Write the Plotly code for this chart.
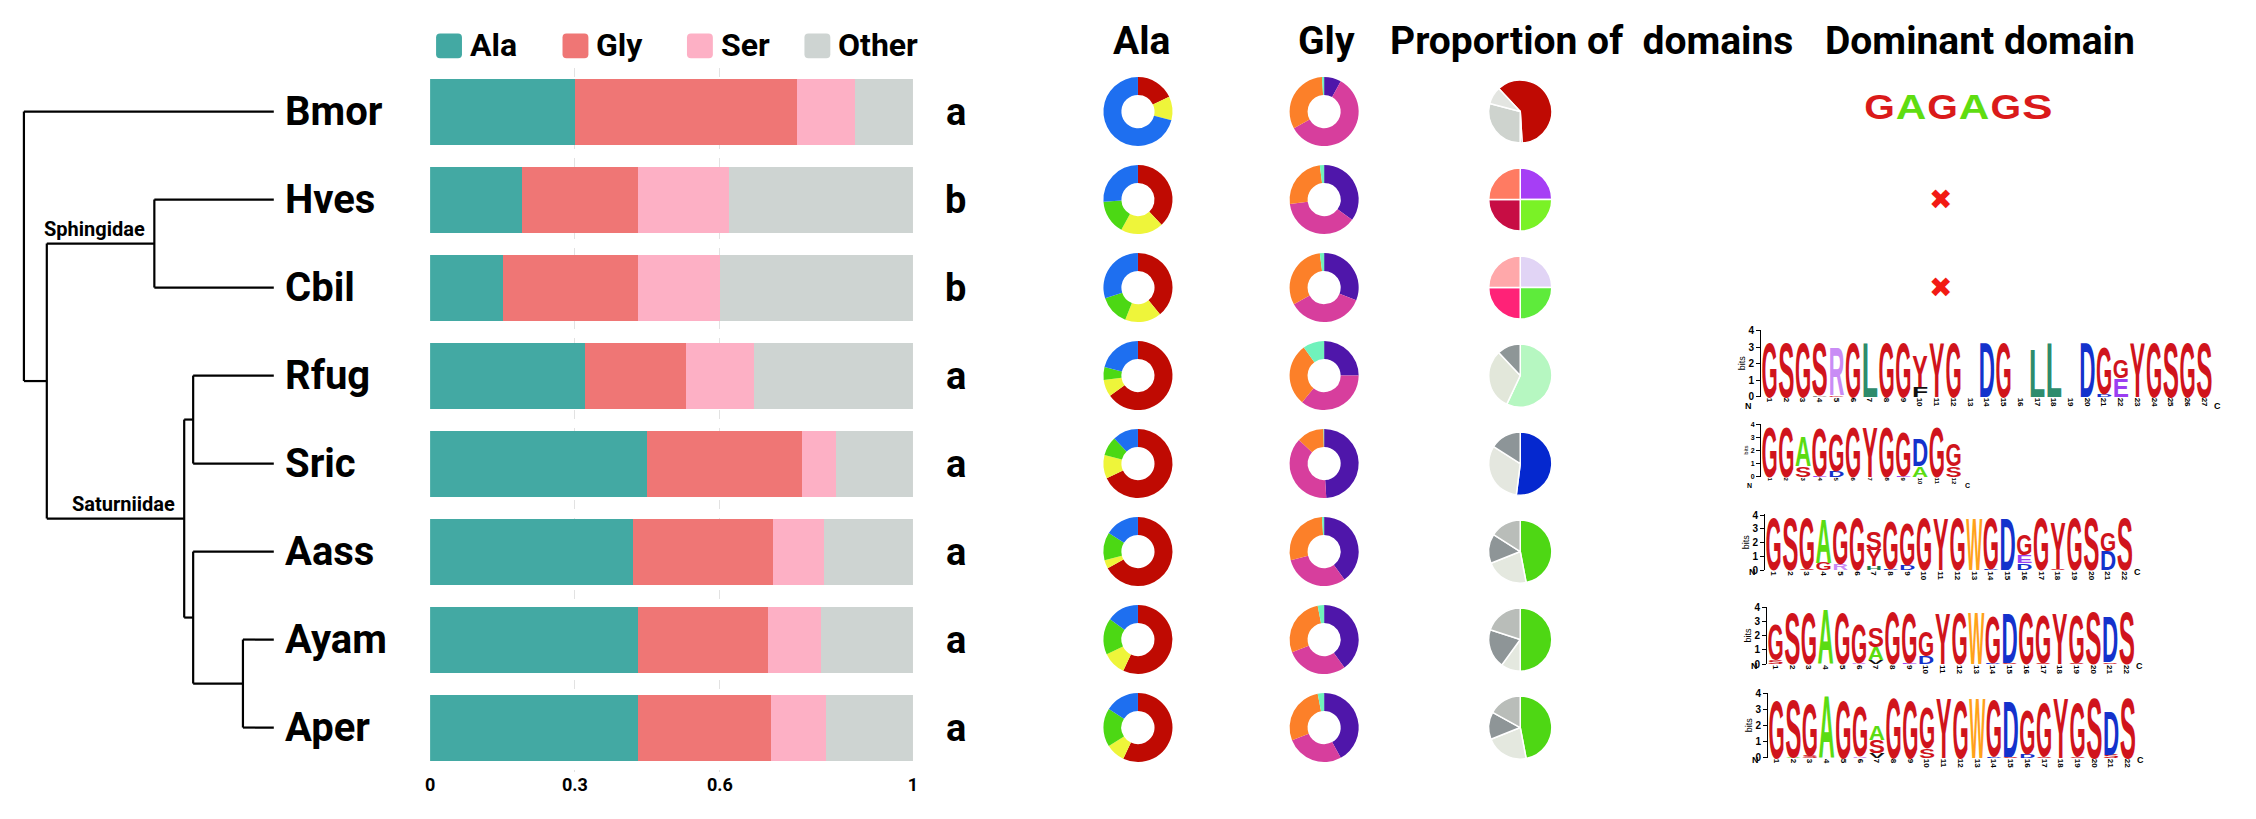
import plotly.graph_objects as go

W, H = 2256, 819

# ---------------- data ----------------
species = ["Bmor", "Hves", "Cbil", "Rfug", "Sric", "Aass", "Ayam", "Aper"]
group_letters = ["a", "b", "b", "a", "a", "a", "a", "a"]

composition_names = ["Ala", "Gly", "Ser", "Other"]
ala_frac = [0.30, 0.19, 0.15, 0.32, 0.45, 0.42, 0.43, 0.43]
gly_frac = [0.46, 0.24, 0.28, 0.21, 0.32, 0.29, 0.27, 0.275]
ser_frac = [0.12, 0.19, 0.17, 0.14, 0.07, 0.105, 0.11, 0.115]
other_frac = [0.12, 0.38, 0.40, 0.33, 0.16, 0.185, 0.19, 0.18]
bar_tick_values = [0, 0.3, 0.6, 1]
bar_tick_labels = ["0", "0.3", "0.6", "1"]

column_titles = ["Ala", "Gly", "Proportion of\u00a0 domains", "Dominant domain"]

ala_parts = ["Ala motif 1", "Ala motif 2", "Ala motif 3", "Ala motif 4"]
ala_donut = {
    "Bmor": [18, 11, 0, 71],
    "Hves": [38, 20, 16, 26],
    "Cbil": [39, 17, 14, 30],
    "Rfug": [65, 8, 6, 21],
    "Sric": [68, 11, 9, 12],
    "Aass": [67, 4, 13, 16],
    "Ayam": [57, 11, 17, 15],
    "Aper": [57, 9, 18, 16],
}
gly_parts = ["Gly motif 1", "Gly motif 2", "Gly motif 3", "Gly motif 4"]
gly_donut = {
    "Bmor": [8, 59, 32, 1],
    "Hves": [35, 38, 25, 2],
    "Cbil": [31, 36, 31, 2],
    "Rfug": [25, 36, 29, 10],
    "Sric": [49, 38, 12.7, 0.3],
    "Aass": [40, 31, 28, 1],
    "Ayam": [40, 29, 28, 3],
    "Aper": [42, 27, 28, 3],
}
domain_share = {
    "Bmor": [61, 1, 29, 9],
    "Hves": [25, 25, 25, 25],
    "Cbil": [25, 25, 25, 25],
    "Rfug": [57, 31, 12],
    "Sric": [52, 32, 16],
    "Aass": [47, 22, 15, 16],
    "Ayam": [50, 10, 20, 20],
    "Aper": [47, 22, 14, 17],
}
domain_start_angle = {"Bmor": -43}

tree = ("", 19, [
    "Bmor",
    ("", 42, [
        ("Sphingidae", 150, ["Hves", "Cbil"]),
        ("Saturniidae", 180, [
            ("", 189, ["Rfug", "Sric"]),
            ("", 189, ["Aass", ("", 239, ["Ayam", "Aper"])]),
        ]),
    ]),
])

# dominant-domain sequence logos: each column bottom->top "letter+bits"
bmor_motif = "GAGAGS"
logo_columns = {
    "Rfug": ["G3.4", "S3.4", "G3.4", "P0.08/S3.2", "G0.1/R3.0", "G3.4", "L3.4", "G3.4", "G3.4",
             "F0.6/Y1.9", "Y3.4", "G3.4", "", "D3.4", "G3.4", "", "L3.0", "L3.4", "", "D3.4",
             "D0.15/G2.9", "E1.1/G1.1", "Y3.4", "G3.4", "S3.4", "G3.4", "S3.4"],
    "Sric": ["G3.85", "G3.85", "S0.8/A2.3", "E0.06/G3.75", "D0.45/G2.9", "G3.85", "Y3.85",
             "G3.85", "E0.08/G3.5", "A0.8/D2.1", "G3.85", "S0.8/G1.7"],
    "Aass": ["G3.9", "S3.9", "S0.06/G3.8", "G0.55/A3.3", "R0.45/G3.2", "G3.9", "H0.3/Y1.2/S1.3",
             "D0.1/G3.6", "D0.4/G3.1", "G3.9", "Y3.9", "G3.9", "W3.9", "D0.08/G3.8", "D3.9",
             "D0.5/E0.6/G1.5", "G3.9", "S0.12/Y3.5", "G3.9", "S3.9", "D1.4/G1.3", "S3.9"],
    "Ayam": ["S0.3/G2.6", "S3.7", "G3.7", "A4.0", "G3.7", "R0.1/G2.8", "V0.3/A0.9/S1.4", "G3.8",
             "E0.05/G3.65", "D0.6/G1.8", "Y3.7", "G3.7", "W3.8", "D0.1/G3.4", "S0.05/D3.65",
             "G3.7", "S0.05/G3.55", "Y3.7", "S0.05/G3.5", "S3.8", "S0.12/D3.3", "S3.8"],
    "Aper": ["G3.7", "A0.05/S3.65", "S0.12/G3.3", "A4.0", "G3.7", "R0.1/G3.2", "V0.3/S0.8/A0.9",
             "G3.8", "G3.7", "S0.6/G2.6", "Y3.8", "G3.7", "W3.8", "D0.08/G3.6", "S0.05/D3.55",
             "D0.25/G2.8", "S0.08/G3.4", "Y3.8", "S0.08/G3.4", "S3.8", "S0.2/D2.8", "S3.8"],
}
no_domain = ["Hves", "Cbil"]

# ---------------- styles / layout ----------------
comp_colors = ["#43A9A3", "#EF7675", "#FDB0C5", "#CED4D2"]
ala_colors = ["#BF0A02", "#EEF53A", "#4CD814", "#1E6FF0"]
gly_colors = ["#4F16AA", "#D73E9D", "#FC8029", "#70F2BC"]
domain_colors = {
    "Bmor": ["#BF0A03", "#6E7680", "#CED3CE", "#E3E5E1"],
    "Hves": ["#A63EF5", "#7AF226", "#C70D44", "#FF7B62"],
    "Cbil": ["#E1D4F5", "#5EEB3B", "#FF2277", "#FFA8AA"],
    "Rfug": ["#B6F7C1", "#E2E7DA", "#8E9697"],
    "Sric": ["#0528CF", "#E4E7DF", "#8D9598"],
    "Aass": ["#4ED714", "#E4E8DF", "#8E9597", "#B9BDB9"],
    "Ayam": ["#4ED714", "#E4E8DF", "#8E9597", "#B9BDB9"],
    "Aper": ["#4ED714", "#E4E8DF", "#8E9597", "#B9BDB9"],
}
letter_colors = {"G": "#D0141C", "S": "#D0141C", "Y": "#D0141C", "A": "#5BDC12",
                 "D": "#1432CC", "W": "#FFA21A", "L": "#2E8C6C", "R": "#C98CF5",
                 "E": "#9B3EF2", "F": "#111111", "H": "#1F7A50", "V": "#111111",
                 "P": "#8A8A8A"}

ROW0, ROW_STEP = 108.0, 89.2
ROW_TOP = ROW0 - ROW_STEP / 2
ROW_BOTTOM = ROW0 + ROW_STEP * (len(species) - 0.5)
BAR_X0, BAR_X1 = 427, 912
TIP_X = 270

BOLD = "bold"
ROBOTO = "Roboto"
LOGO_FONT = "Liberation Sans"


def px(x):
    return x / W


def py(y):
    return 1 - y / H


def row_px(i):
    return ROW0 + ROW_STEP * i


def pie_domain(cx, cy, r):
    return dict(x=[px(cx - r), px(cx + r)], y=[py(cy + r), py(cy - r)])


fig = go.Figure()

# ---- stacked composition bars ----
for name, vals, col in zip(composition_names, [ala_frac, gly_frac, ser_frac, other_frac], comp_colors):
    fig.add_trace(go.Bar(y=species, x=vals, name=name, orientation="h", marker=dict(color=col, line=dict(width=0)),
                         width=0.75, xaxis="x", yaxis="y", showlegend=False))

# ---- tree ----
tree_x, tree_y, clade_labels = [], [], []


def walk(node):
    if isinstance(node, str):
        return TIP_X, species.index(node)
    name, x, children = node
    ys = []
    for ch in children:
        cx, cy = walk(ch)
        tree_x.extend([x, cx, None])
        tree_y.extend([cy, cy, None])
        ys.append(cy)
    tree_x.extend([x, x, None])
    tree_y.extend([min(ys), max(ys), None])
    y = (min(ys) + max(ys)) / 2
    if name:
        clade_labels.append((name, x, y))
    return x, y


walk(tree)
fig.add_trace(go.Scatter(x=tree_x, y=tree_y, mode="lines", line=dict(color="black", width=2.2),
                         xaxis="x2", yaxis="y2", showlegend=False, hoverinfo="skip"))

# ---- donuts and pies ----
for i, sp in enumerate(species):
    cy = row_px(i)
    fig.add_trace(go.Pie(values=ala_donut[sp], labels=ala_parts, hole=0.48, sort=False, direction="clockwise",
                         marker=dict(colors=ala_colors, line=dict(width=0)), textinfo="none",
                         domain=pie_domain(1138, cy, 35), showlegend=False, name=sp))
    fig.add_trace(go.Pie(values=gly_donut[sp], labels=gly_parts, hole=0.48, sort=False, direction="clockwise",
                         marker=dict(colors=gly_colors, line=dict(width=0)), textinfo="none",
                         domain=pie_domain(1325, cy, 35), showlegend=False, name=sp))
    vals = domain_share[sp]
    fig.add_trace(go.Pie(values=vals, labels=[f"{sp} domain {k + 1}" for k in range(len(vals))],
                         sort=False, direction="clockwise", rotation=domain_start_angle.get(sp, 0),
                         marker=dict(colors=domain_colors[sp], line=dict(width=1.5, color="white")),
                         textinfo="none", domain=pie_domain(1522, cy, 32), showlegend=False, name=sp))

# ---- sequence logos ----
logo_geom = {
    # left px, column width px, baseline px, px per bit, y top, show axes, tick font, number font
    "Bmor": (1867, 31.7, 116, 26.0, 1.0, False, 10, 9),
    "Rfug": (1764, 16.8, 397, 16.75, 4.05, True, 10, 8),
    "Sric": (1764, 16.8, 478, 13.25, 4.05, True, 7, 6),
    "Aass": (1768, 16.8, 573, 14.0, 4.05, True, 10, 8),
    "Ayam": (1770, 16.8, 668, 14.25, 4.05, True, 10, 8),
    "Aper": (1771, 16.8, 763, 16.25, 4.05, True, 10, 8),
}
logo_order = ["Bmor", "Rfug", "Sric", "Aass", "Ayam", "Aper"]
axis_layout = {}
annotations = []
for k, sp in enumerate(logo_order):
    idx = k + 3
    left, cw, base, ppb, ytop, show, tfs, nfs = logo_geom[sp]
    if sp == "Bmor":
        cols = [c + "1.0" for c in bmor_motif]
    else:
        cols = logo_columns[sp]
    n = len(cols)
    lx, ly, lt, lc, lh = [], [], [], [], []
    for j, col in enumerate(cols, start=1):
        if not col:
            continue
        b = 0.0
        for item in col.split("/"):
            letter, h = item[0], float(item[1:])
            lx.append(j)
            ly.append(b)
            lt.append(letter)
            lc.append(letter_colors[letter] if sp != "Bmor" else ("#5FDD10" if letter == "A" else "#DA1A1A"))
            lh.append(h)
            b += h
    fig.add_trace(go.Scatter(x=lx, y=ly, text=lt, customdata=lh, mode="text", meta="logo",
                             textfont=dict(family=LOGO_FONT, size=20, weight=BOLD, color=lc),
                             cliponaxis=False, xaxis=f"x{idx}", yaxis=f"y{idx}", showlegend=False,
                             hoverinfo="skip"))
    axis_layout[f"xaxis{idx}"] = dict(
        domain=[px(left), px(left + n * cw)], range=[0.5, n + 0.5], anchor=f"y{idx}",
        tickmode="array", tickvals=list(range(1, n + 1)), ticktext=[str(v) for v in range(1, n + 1)],
        tickangle=90, tickfont=dict(family=LOGO_FONT, size=nfs, weight=BOLD, color="black"),
        showgrid=False, zeroline=False, showline=False, ticks="", visible=show, fixedrange=True)
    axis_layout[f"yaxis{idx}"] = dict(
        domain=[py(base), py(base - ytop * ppb)], range=[0, ytop], anchor=f"x{idx}",
        tickmode="array", tickvals=[0, 1, 2, 3, 4], ticks="outside", ticklen=4, tickwidth=1,
        tickcolor="black", showline=True, linewidth=1, linecolor="black", showgrid=False,
        zeroline=False, tickfont=dict(family=LOGO_FONT, size=tfs, weight=BOLD, color="black"),
        title=dict(text="bits", font=dict(family=LOGO_FONT, size=tfs - 1, color="black"), standoff=1),
        visible=show, fixedrange=True)
    if show:
        annotations.append(dict(text="N", x=px(left - 7), y=py(base + 9), xref="paper", yref="paper",
                                showarrow=False, font=dict(family=LOGO_FONT, size=nfs + 1, weight=BOLD)))
        annotations.append(dict(text="C", x=px(left + n * cw + 10), y=py(base + 9), xref="paper",
                                yref="paper", showarrow=False,
                                font=dict(family=LOGO_FONT, size=nfs + 1, weight=BOLD)))

for sp in no_domain:
    annotations.append(dict(text="\u2716", x=px(1958), y=sp, xref="paper", yref="y", showarrow=False,
                            font=dict(family="DejaVu Sans", size=28, color="#F21A14")))

# ---- labels ----
for sp, g in zip(species, group_letters):
    annotations.append(dict(text=sp, x=px(279), y=sp, xref="paper", yref="y", xanchor="left",
                            showarrow=False, font=dict(family=ROBOTO, size=40, weight=BOLD, color="black")))
    annotations.append(dict(text=g, x=px(955), y=sp, xref="paper", yref="y", xanchor="center",
                            showarrow=False, font=dict(family=ROBOTO, size=38, weight=BOLD, color="black")))
for name, x, y in clade_labels:
    annotations.append(dict(text=name, x=x - 7, y=y, xref="x2", yref="y2", xanchor="right",
                            yanchor="bottom", yshift=1, showarrow=False,
                            font=dict(family=ROBOTO, size=20, weight=BOLD, color="black")))
for title, cx in zip(column_titles, [1142, 1327, 1594, 1984]):
    annotations.append(dict(text=title, x=px(cx), y=py(36), xref="paper", yref="paper", xanchor="center",
                            yanchor="middle", showarrow=False,
                            font=dict(family=ROBOTO, size=39, weight=BOLD, color="black")))

# ---- custom legend ----
shapes = []
legend_box_x = [433, 560, 685, 803]
for name, col, bx in zip(composition_names, comp_colors, legend_box_x):
    x0, x1, y0, y1, r = bx, bx + 26, 29, 54, 4
    X0, X1, Y0, Y1 = px(x0), px(x1), py(y0), py(y1)
    rx, ry = r / W, r / H
    path = (f"M{X0 + rx},{Y0} L{X1 - rx},{Y0} Q{X1},{Y0} {X1},{Y0 - ry} L{X1},{Y1 + ry} "
            f"Q{X1},{Y1} {X1 - rx},{Y1} L{X0 + rx},{Y1} Q{X0},{Y1} {X0},{Y1 + ry} "
            f"L{X0},{Y0 - ry} Q{X0},{Y0} {X0 + rx},{Y0} Z")
    shapes.append(dict(type="path", path=path, xref="paper", yref="paper", fillcolor=col,
                       line=dict(width=0), layer="above"))
    annotations.append(dict(text=name, x=px(x1 + 6), y=py(41), xref="paper", yref="paper", xanchor="left",
                            yanchor="middle", showarrow=False,
                            font=dict(family=ROBOTO, size=32, weight=BOLD, color="black")))

fig.update_layout(
    width=W, height=H, margin=dict(l=0, r=0, t=0, b=0), autosize=False,
    paper_bgcolor="white", plot_bgcolor="rgba(0,0,0,0)", barmode="stack", bargap=0.25,
    showlegend=False, font=dict(family=ROBOTO, color="black"),
    xaxis=dict(domain=[px(BAR_X0), px(BAR_X1)], range=[0, 1], tickmode="array", tickvals=bar_tick_values,
               ticktext=bar_tick_labels, showgrid=True, gridcolor="#E2E2E2", griddash="dash", gridwidth=1,
               zeroline=False, showline=False, ticks="", anchor="y",
               tickfont=dict(family=ROBOTO, size=18, weight=BOLD, color="black")),
    yaxis=dict(domain=[py(ROW_BOTTOM), py(ROW_TOP)], type="category", categoryorder="array",
               categoryarray=species, range=[len(species) - 0.5, -0.5], showticklabels=False,
               showgrid=False, zeroline=False, ticks="", anchor="x"),
    xaxis2=dict(domain=[0, px(300)], range=[0, 300], visible=False, anchor="y2"),
    yaxis2=dict(domain=[py(ROW_BOTTOM), py(ROW_TOP)], range=[len(species) - 0.5, -0.5], visible=False,
                anchor="x2"),
    annotations=annotations, shapes=shapes,
    **axis_layout,
)

post_js = r"""
(function(){
  document.body.style.margin='0px';
  document.body.style.overflow='hidden';
  var gd=document.getElementById('{plot_id}');
  function stretch(){
    var gs=gd.querySelectorAll('g.trace');
    for(var k=0;k<gs.length;k++){
      var g=gs[k]; var cd=g.__data__;
      if(!cd||!cd[0]||!cd[0].trace) continue;
      var tr=cd[0].trace;
      if(tr.meta!=='logo') continue;
      var xa=gd._fullLayout['xaxis'+tr.xaxis.slice(1)];
      var ya=gd._fullLayout['yaxis'+tr.yaxis.slice(1)];
      var fs=tr.textfont.size;
      var tps=g.querySelectorAll('g.textpoint');
      for(var i=0;i<tps.length;i++){
        var tp=tps[i]; var t=tp.querySelector('text'); if(!t) continue;
        tp.removeAttribute('transform');
        var h=tr.customdata[i];
        var X=parseFloat(t.getAttribute('x')), Y=parseFloat(t.getAttribute('y'));
        var bb=t.getBBox();
        if(!bb.width) continue;
        var sx=Math.abs(xa._m)*0.97/bb.width;
        var sy=h*Math.abs(ya._m)/(0.72*fs);
        t.setAttribute('transform','translate('+X+','+Y+') scale('+sx+','+sy+') translate('+(-X)+','+(-Y)+')');
      }
    }
  }
  stretch();
  if(gd.on) gd.on('plotly_afterplot', stretch);
})();
"""

fig.write_html("out.html", config=dict(responsive=False, displayModeBar=False), post_script=post_js)
